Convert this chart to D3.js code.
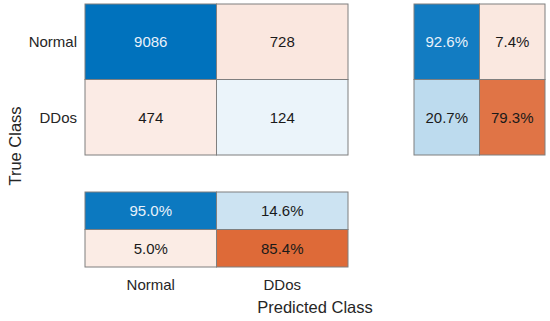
<!DOCTYPE html>
<html>
<head>
<meta charset="utf-8">
<script src="https://cdn.jsdelivr.net/npm/d3@7"></script>
<style>
body{margin:0;background:#fff;}
text{font-family:"Liberation Sans",Arial,sans-serif;}
</style>
</head>
<body>
<svg width="550" height="321"></svg>
<script>
// class names
const classes = ["Normal", "DDos"];
// counts [true][pred]
const counts = [[9086, 728], [474, 124]];
// row summary (true class %) : correct, incorrect
const rowCorrect = [92.6, 20.7];
const rowWrong = [7.4, 79.3];
// column summary (predicted class %) : correct, incorrect
const colCorrect = [95.0, 14.6];
const colWrong = [5.0, 85.4];

const svg = d3.select("svg");
const blue = d3.interpolateRgb("#ffffff", "rgb(0,114,189)");
const orange = d3.interpolateRgb("#ffffff", "rgb(217,83,25)");
const shade = d3.scaleLinear().domain([0, 1]).range([0.065, 1]).clamp(true);
const maxCount = d3.max(counts.flat());

// main matrix
const x = d3.scaleBand().domain(classes).range([85, 348]);
const y = d3.scaleBand().domain(classes).range([4, 155]);

const cells = [];
counts.forEach((row, i) => row.forEach((v, j) => {
    cells.push({r: classes[i], c: classes[j], v: v, diag: i === j});
}));

function drawCells(g, data, xs, ys, fmt) {
    const cg = g.selectAll("g").data(data).enter().append("g");
    cg.append("rect")
        .attr("x", d => xs(d.c)).attr("y", d => ys(d.r))
        .attr("width", xs.bandwidth()).attr("height", ys.bandwidth())
        .attr("fill", d => d.diag ? blue(shade(d.t)) : orange(shade(d.t)))
        .attr("stroke", "#7f7f7f").attr("stroke-width", 1);
    cg.append("text")
        .attr("x", d => xs(d.c) + xs.bandwidth() / 2)
        .attr("y", d => ys(d.r) + ys.bandwidth() / 2)
        .attr("dy", "0.35em")
        .attr("text-anchor", "middle")
        .attr("font-size", 15)
        .attr("fill", d => d.t > 0.6 && d.diag ? "#e8f1fa" : "#1a1a1a")
        .text(d => fmt(d.v));
}

cells.forEach(d => d.t = d.v / maxCount);
drawCells(svg.append("g"), cells, x, y, d => d);

// row summary
const xr = d3.scaleBand().domain(["ok", "bad"]).range([414, 545]);
const rowCells = [];
classes.forEach((c, i) => {
    rowCells.push({r: c, c: "ok", v: rowCorrect[i], t: rowCorrect[i] / 100, diag: true});
    rowCells.push({r: c, c: "bad", v: rowWrong[i], t: rowWrong[i] / 100, diag: false});
});
drawCells(svg.append("g"), rowCells, xr, y, d => d.toFixed(1) + "%");

// column summary
const yc = d3.scaleBand().domain(["ok", "bad"]).range([192, 267]);
const colCells = [];
classes.forEach((c, j) => {
    colCells.push({r: "ok", c: c, v: colCorrect[j], t: colCorrect[j] / 100, diag: true});
    colCells.push({r: "bad", c: c, v: colWrong[j], t: colWrong[j] / 100, diag: false});
});
drawCells(svg.append("g"), colCells, x, yc, d => d.toFixed(1) + "%");

// tick labels
svg.append("g").selectAll("text").data(classes).enter().append("text")
    .attr("x", 77).attr("y", d => y(d) + y.bandwidth() / 2).attr("dy", "0.35em")
    .attr("text-anchor", "end").attr("font-size", 15).attr("fill", "#262626")
    .text(d => d);
svg.append("g").selectAll("text").data(classes).enter().append("text")
    .attr("x", d => x(d) + x.bandwidth() / 2).attr("y", 290)
    .attr("text-anchor", "middle").attr("font-size", 15).attr("fill", "#262626")
    .text(d => d);

// axis titles
svg.append("text").attr("x", 315).attr("y", 313)
    .attr("text-anchor", "middle").attr("font-size", 16.5).attr("fill", "#262626")
    .text("Predicted Class");
svg.append("text").attr("transform", "translate(21,146) rotate(-90)")
    .attr("text-anchor", "middle").attr("font-size", 16.5).attr("fill", "#262626")
    .text("True Class");
</script>
</body>
</html>
